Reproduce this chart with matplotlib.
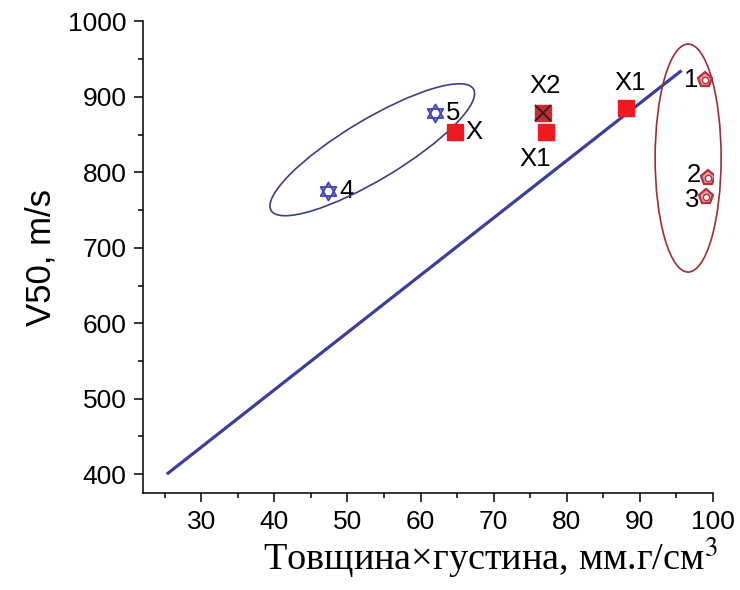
import numpy as np
import matplotlib.pyplot as plt
from matplotlib.path import Path
from matplotlib.patches import Ellipse
from matplotlib.ticker import MultipleLocator
from matplotlib.transforms import ScaledTranslation

plt.rcParams['font.family'] = ['Liberation Sans', 'DejaVu Sans']
plt.rcParams['mathtext.fontset'] = 'stix'

# linear trend
trend_x = [25.3, 95.7]
trend_y = [400, 935]

# squares (filled)
sq_x = [64.7, 77.1, 88.1]
sq_y = [853, 853, 886]
sq_labels = ["X", "X1", "X1"]

# crossed square
x2_x = [76.7]
x2_y = [879]

# hexagram points
star_x = [47.4, 62.0]
star_y = [775, 879]
star_labels = ["4", "5"]

# pentagons
pent_x = [98.9, 99.3, 99.1]
pent_y = [922, 792, 767]
pent_labels = ["1", "2", "3"]

BLUE = "#3b3f9c"
RED = "#ee1c22"

# six-pointed star: two opposite-wound triangles leave the centre hollow
s = np.sqrt(3) / 2
hexagram = Path(
    [(0, 1), (-s, -0.5), (s, -0.5), (0, 1),
     (0, -1), (-s, 0.5), (s, 0.5), (0, -1)],
    [Path.MOVETO, Path.LINETO, Path.LINETO, Path.CLOSEPOLY] * 2,
)

fig = plt.figure(figsize=(7.4, 5.9), dpi=100)
ax = fig.add_axes([142.7 / 740, 97 / 590, 570.3 / 740, 471.5 / 590])

ax.plot(trend_x, trend_y, color=BLUE, lw=2.3, solid_capstyle="butt", zorder=2)

ax.plot(sq_x, sq_y, "s", ms=12, color=RED, mec=RED, zorder=4)
ax.plot(x2_x, x2_y, "s", ms=12, color="#cc2a32", mec="#cc2a32", zorder=4)
ax.plot(x2_x, x2_y, "x", ms=11, color="#222222", mew=1.3, zorder=5)

ax.plot(star_x, star_y, ls="none", marker=hexagram, ms=13, mfc="#8f93e0",
        mec="#4048b8", mew=1.3, zorder=4)

ax.plot(pent_x, pent_y, "p", ms=11, mfc="#e8a0a6", mec="#b5303c", mew=1.6,
        zorder=4)
ax.plot(pent_x, pent_y, "o", ms=4.5, mfc="white", mec="#b5303c", mew=1.0,
        zorder=5)

# text labels next to the markers
lab_kw = dict(textcoords="offset pixels", fontsize=18.5, va="center")
ax.annotate(sq_labels[0], (sq_x[0], sq_y[0]), xytext=(19, 0), ha="center", **lab_kw)
ax.annotate(sq_labels[1], (sq_x[1], sq_y[1]), xytext=(-10, -27), ha="center", **lab_kw)
ax.annotate(sq_labels[2], (sq_x[2], sq_y[2]), xytext=(4, 25), ha="center", **lab_kw)
ax.annotate("X2", (x2_x[0], x2_y[0]), xytext=(2, 27), ha="center", **lab_kw)
for x, y, t in zip(star_x, star_y, star_labels):
    ax.annotate(t, (x, y), xytext=(18, 0), ha="center", **lab_kw)
pent_dy = [0, 3, -3]
for x, y, t, dy in zip(pent_x, pent_y, pent_labels, pent_dy):
    ax.annotate(t, (x, y), xytext=(-14, dy), ha="center", **lab_kw)

# group outlines, sized in inches around a data-space centre
def outline(cx, cy, w, h, angle, color):
    tr = fig.dpi_scale_trans + ScaledTranslation(cx, cy, ax.transData)
    e = Ellipse((0, 0), w, h, angle=angle, transform=tr, fill=False,
                ec=color, lw=1.2, clip_on=False, zorder=3)
    ax.add_patch(e)

outline(53.4, 830, 2.36, 0.6, 31, "#3a3e88")
outline(96.6, 819, 0.66, 2.28, 0, "#a02c30")

ax.set_xlim(22, 100)
ax.set_ylim(375, 1000)
ax.xaxis.set_minor_locator(MultipleLocator(5))
ax.yaxis.set_major_locator(MultipleLocator(100))
ax.yaxis.set_minor_locator(MultipleLocator(50))
ax.set_xticks(np.arange(30, 101, 10))

for side in ("top", "right"):
    ax.spines[side].set_visible(False)
for side in ("left", "bottom"):
    ax.spines[side].set_linewidth(1.1)

ax.tick_params(which="major", direction="out", length=6.5, width=1.1,
               labelsize=19, pad=5)
ax.tick_params(which="minor", direction="out", length=3.5, width=1.1)
ax.tick_params(axis="x", which="major", pad=6)

ax.set_ylabel("V50, m/s", fontsize=25, labelpad=8)
ax.set_xlabel("Товщина×густина, мм.г/см$^3$", fontsize=27.5,
              fontfamily="Liberation Serif")
ax.xaxis.set_label_coords(0.61, -0.09)

fig.savefig("out.png", dpi=100)
